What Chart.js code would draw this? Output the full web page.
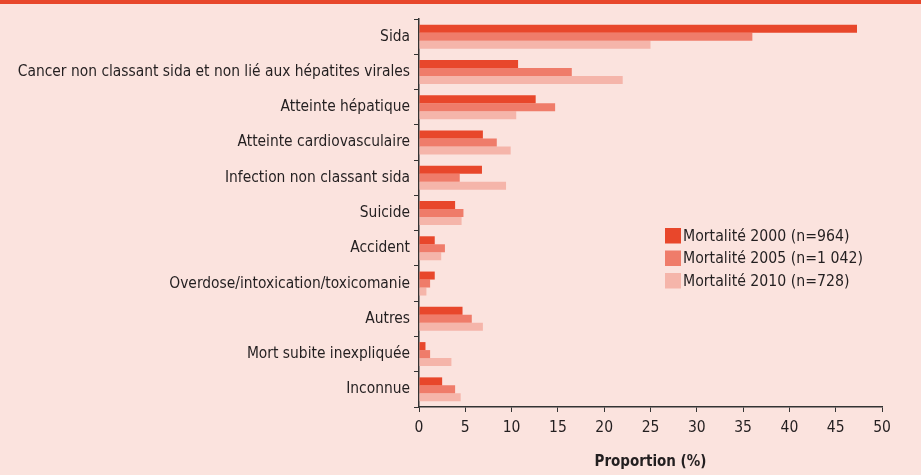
<!DOCTYPE html>
<html>
<head>
<meta charset="utf-8">
<script src="https://cdn.jsdelivr.net/npm/chart.js@4/dist/chart.umd.min.js"></script>
<style>
  html, body { margin: 0; padding: 0; background: #fbe3de; }
  #topbar { position: absolute; left: 0; top: 0; width: 921px; height: 4px; background: #e8472b; }
  #wrap { position: absolute; left: 0; top: 0; width: 921px; height: 475px; }
</style>
</head>
<body>
<div id="wrap"><canvas id="chart" width="921" height="475"></canvas></div>
<div id="topbar"></div>
<script>
// categories and values (% of deaths)
const causes = [
  'Sida',
  'Cancer non classant sida et non lié aux hépatites virales',
  'Atteinte hépatique',
  'Atteinte cardiovasculaire',
  'Infection non classant sida',
  'Suicide',
  'Accident',
  'Overdose/intoxication/toxicomanie',
  'Autres',
  'Mort subite inexpliquée',
  'Inconnue'
];
const mort2000 = [47.3, 10.7, 12.6, 6.9, 6.8, 3.9, 1.7, 1.7, 4.7, 0.7, 2.5];
const mort2005 = [36.0, 16.5, 14.7, 8.4, 4.4, 4.8, 2.8, 1.2, 5.7, 1.2, 3.9];
const mort2010 = [25.0, 22.0, 10.5, 9.9, 9.4, 4.6, 2.4, 0.8, 6.9, 3.5, 4.5];
const seriesNames = ['Mortalité 2000 (n=964)', 'Mortalité 2005 (n=1 042)', 'Mortalité 2010 (n=728)'];
const colors = ['#e8472b', '#ef7c6a', '#f5b5aa'];

const fontFam = '"DejaVu Sans Condensed", "Liberation Sans", Arial, sans-serif';
const ink = '#231f20';

// legend drawn inside the plot, like the original
const legendInside = {
  id: 'legendInside',
  afterDraw(chart) {
    const ctx = chart.ctx;
    const x = 665, y0 = 228;
    ctx.save();
    ctx.font = '15.7px ' + fontFam;
    ctx.textBaseline = 'middle';
    chart.data.datasets.forEach((ds, i) => {
      const y = y0 + i * 22.5;
      ctx.fillStyle = ds.backgroundColor;
      ctx.fillRect(x, y, 16, 15.5);
      ctx.fillStyle = ink;
      ctx.fillText(ds.label, x + 18, y + 8.5);
    });
    ctx.restore();
  }
};

new Chart(document.getElementById('chart'), {
  type: 'bar',
  data: {
    labels: causes,
    datasets: [
      { label: seriesNames[0], data: mort2000, backgroundColor: colors[0] },
      { label: seriesNames[1], data: mort2005, backgroundColor: colors[1] },
      { label: seriesNames[2], data: mort2010, backgroundColor: colors[2] }
    ]
  },
  options: {
    indexAxis: 'y',
    responsive: false,
    animation: false,
    layout: { padding: { top: 19, right: 39, bottom: 0, left: 0 } },
    datasets: { bar: { barPercentage: 1, categoryPercentage: 0.68 } },
    plugins: { legend: { display: false }, tooltip: { enabled: false } },
    scales: {
      x: {
        min: 0, max: 50,
        ticks: { stepSize: 5, color: ink, font: { family: fontFam, size: 15.5 }, padding: 7 },
        grid: { drawOnChartArea: false, tickLength: 5, color: '#333' },
        border: { color: '#333', width: 1.5 },
        title: { display: true, text: 'Proportion (%)', color: ink, font: { family: fontFam, size: 15, weight: 'bold' }, padding: { top: 12 } },
        afterFit(scale) { scale.height = 68; }
      },
      y: {
        ticks: { color: ink, font: { family: fontFam, size: 15.4 }, padding: 4 },
        grid: { drawOnChartArea: false, tickLength: 5, color: '#333', offset: true },
        border: { color: '#333', width: 1.5 },
        afterFit(scale) { scale.width = 419; }
      }
    }
  },
  plugins: [legendInside]
});
</script>
</body>
</html>
